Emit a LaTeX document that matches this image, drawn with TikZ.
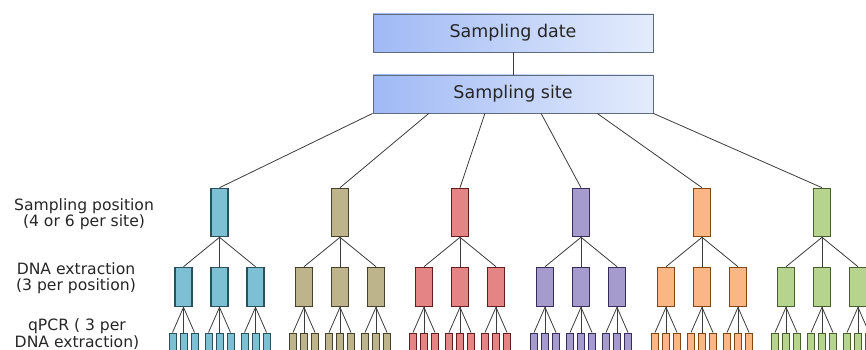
\documentclass[tikz,border=0pt]{standalone}
\usepackage{fontspec}
\setmainfont{DejaVu Sans}
\usetikzlibrary{calc}
\definecolor{topL}{RGB}{160,185,245}
\definecolor{topR}{RGB}{228,236,252}
\definecolor{topD}{RGB}{95,108,128}
\definecolor{fA}{RGB}{125,192,212}\definecolor{dA}{RGB}{40,80,95}
\definecolor{fB}{RGB}{190,180,140}\definecolor{dB}{RGB}{70,65,45}
\definecolor{fC}{RGB}{228,132,132}\definecolor{dC}{RGB}{100,30,30}
\definecolor{fD}{RGB}{165,155,205}\definecolor{dD}{RGB}{55,45,90}
\definecolor{fE}{RGB}{250,182,132}\definecolor{dE}{RGB}{130,70,20}
\definecolor{fF}{RGB}{182,212,142}\definecolor{dF}{RGB}{70,95,45}
\definecolor{lineC}{RGB}{60,60,60}
\begin{document}
\begin{tikzpicture}[x=1pt,y=-1pt,
  topbox/.style={draw=topD, line width=0.9pt, left color=topL, right color=topR,
    minimum width=280pt, minimum height=38pt, inner sep=0pt,
    font=\fontsize{17.5}{20}\selectfont, text=black!85},
  posbox/.style={line width=1.6pt, minimum width=17pt, minimum height=48pt, inner sep=0pt},
  dnabox/.style={line width=1.6pt, minimum width=17pt, minimum height=39pt, inner sep=0pt},
  qbox/.style={line width=1pt, minimum width=7pt, minimum height=22pt, inner sep=0pt},
  conn/.style={draw=lineC, line width=0.8pt},
  lab/.style={align=center, inner sep=0pt, font=\fontsize{15.6}{16.5}\selectfont, text=black!85}]
\useasboundingbox (0,0) rectangle (866,350);
\clip (0,0) rectangle (866,350);
\fill[white] (0,0) rectangle (866,350);
\node[topbox] (date) at (513,33) {Sampling date};
\node[topbox] (site) at (513,94) {Sampling site};
\draw[conn] (date) -- (site);
\node[lab] (l1) at (84,214) {Sampling position\\(4 or 6 per site)};
\node[lab] (l2) at (76,278) {DNA extraction\\(3 per position)};
\node[lab] (l3) at (77,334) {qPCR ( 3 per\\DNA extraction)};
\foreach \fc/\dc/\x [count=\i] in {fA/dA/219.5, fB/dB/340, fC/dC/460, fD/dD/581, fE/dE/702, fF/dF/822}{
  \pgfmathsetmacro{\fr}{(\i-1)/5}
  \coordinate (s\i) at ($(site.south west)!\fr!(site.south east)$);
  \node[posbox, fill=\fc, draw=\dc] (p\i) at (\x,212.5) {};
  \draw[conn] (s\i) -- (p\i.north);
  \foreach \d/\dx in {1/-36,2/0,3/36}{
    \node[dnabox, fill=\fc, draw=\dc] (d\i\d) at (\x+\dx,287) {};
    \draw[conn] (p\i.south) -- (d\i\d.north);
    \foreach \q/\qx in {1/-11,2/0,3/11}{
      \node[qbox, fill=\fc, draw=\dc] (q\i\d\q) at (\x+\dx+\qx,344) {};
      \draw[conn] (d\i\d.south) -- (q\i\d\q.north);
    }
  }
}
\end{tikzpicture}
\end{document}
